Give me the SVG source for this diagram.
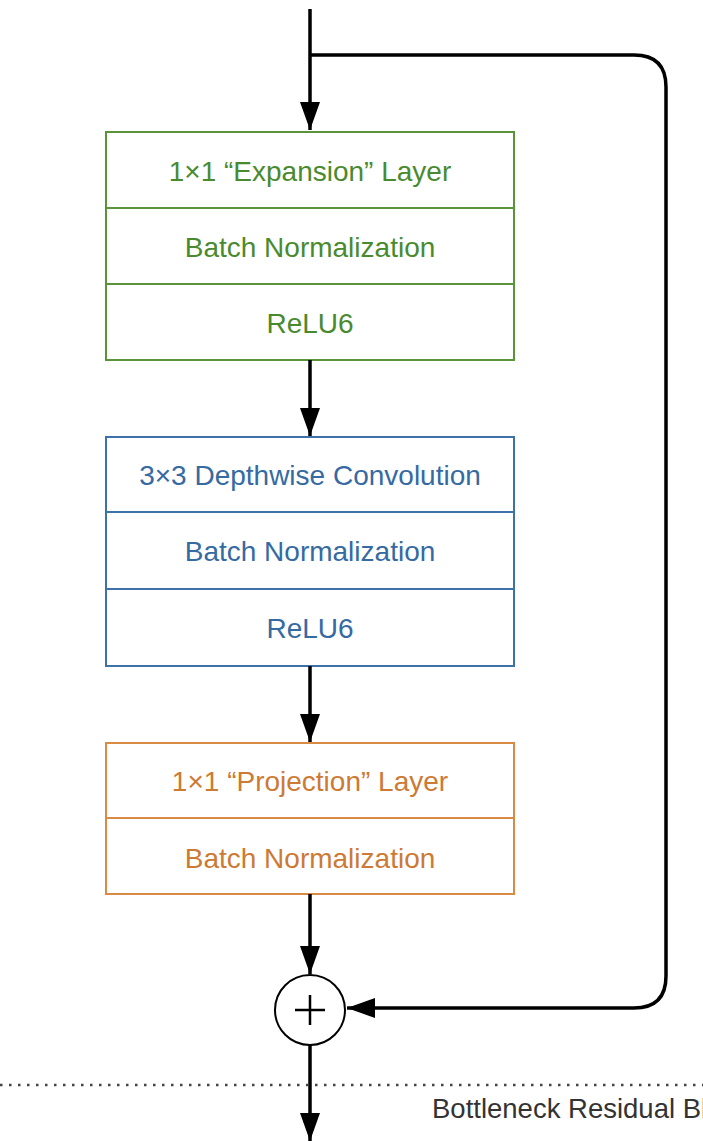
<svg xmlns="http://www.w3.org/2000/svg" width="703" height="1141" viewBox="0 0 703 1141">
<defs>
<marker id="ah" viewBox="0 0 28 20" refX="28" refY="10" markerWidth="28" markerHeight="20" markerUnits="userSpaceOnUse" orient="auto">
<path d="M0,0 L28,10 L0,20 Z" fill="#000"/>
</marker>
<style>
.lbl{font-family:"Liberation Sans",Arial,sans-serif;font-size:28px;text-anchor:middle;dominant-baseline:central}
.g rect,.g line{stroke:#5a9438;stroke-width:2;fill:#fff}
.g text{fill:#4a8a2e}
.b rect,.b line{stroke:#3d72a8;stroke-width:2;fill:#fff}
.b text{fill:#356aa2}
.o rect,.o line{stroke:#d98a45;stroke-width:2;fill:#fff}
.o text{fill:#cc7a34}
.c{stroke:#000;stroke-width:3.5;fill:none}
</style>
</defs>
<rect width="703" height="1141" fill="#fff"/>
<g id="expansion" class="g">
<rect x="106" y="132" width="408" height="228"/>
<line x1="106" y1="208" x2="514" y2="208"/>
<line x1="106" y1="284" x2="514" y2="284"/>
<text class="lbl" x="310" y="171">1×1 “Expansion” Layer</text>
<text class="lbl" x="310" y="247">Batch Normalization</text>
<text class="lbl" x="310" y="323">ReLU6</text>
</g>
<g id="depthwise" class="b">
<rect x="106" y="437" width="408" height="229"/>
<line x1="106" y1="512" x2="514" y2="512"/>
<line x1="106" y1="589" x2="514" y2="589"/>
<text class="lbl" x="310" y="475">3×3 Depthwise Convolution</text>
<text class="lbl" x="310" y="551">Batch Normalization</text>
<text class="lbl" x="310" y="628">ReLU6</text>
</g>
<g id="projection" class="o">
<rect x="106" y="743" width="408" height="151"/>
<line x1="106" y1="818" x2="514" y2="818"/>
<text class="lbl" x="310" y="781">1×1 “Projection” Layer</text>
<text class="lbl" x="310" y="858">Batch Normalization</text>
</g>
<g id="add">
<circle cx="310" cy="1010" r="35" fill="#fff" stroke="#000" stroke-width="2"/>
<path d="M295,1010 H325 M310,995 V1025" stroke="#000" stroke-width="2.5"/>
</g>
<g id="connectors">
<line class="c" x1="310" y1="9" x2="310" y2="130" marker-end="url(#ah)"/>
<path class="c" d="M310,55 H634 Q666,55 666,87 V976 Q666,1008 634,1008 H347" marker-end="url(#ah)"/>
<line class="c" x1="310" y1="360" x2="310" y2="436" marker-end="url(#ah)"/>
<line class="c" x1="310" y1="666" x2="310" y2="742" marker-end="url(#ah)"/>
<line class="c" x1="310" y1="894" x2="310" y2="974" marker-end="url(#ah)"/>
<line class="c" x1="310" y1="1045" x2="310" y2="1141" marker-end="url(#ah)"/>
</g>
<g id="boundary">
<line x1="0" y1="1085" x2="703" y2="1085" stroke="#444" stroke-width="2.5" stroke-dasharray="2.5 6.5"/>
<text x="432" y="1118" font-family="Liberation Sans, Arial, sans-serif" font-size="27.5" fill="#333">Bottleneck Residual Block</text>
</g>
</svg>
